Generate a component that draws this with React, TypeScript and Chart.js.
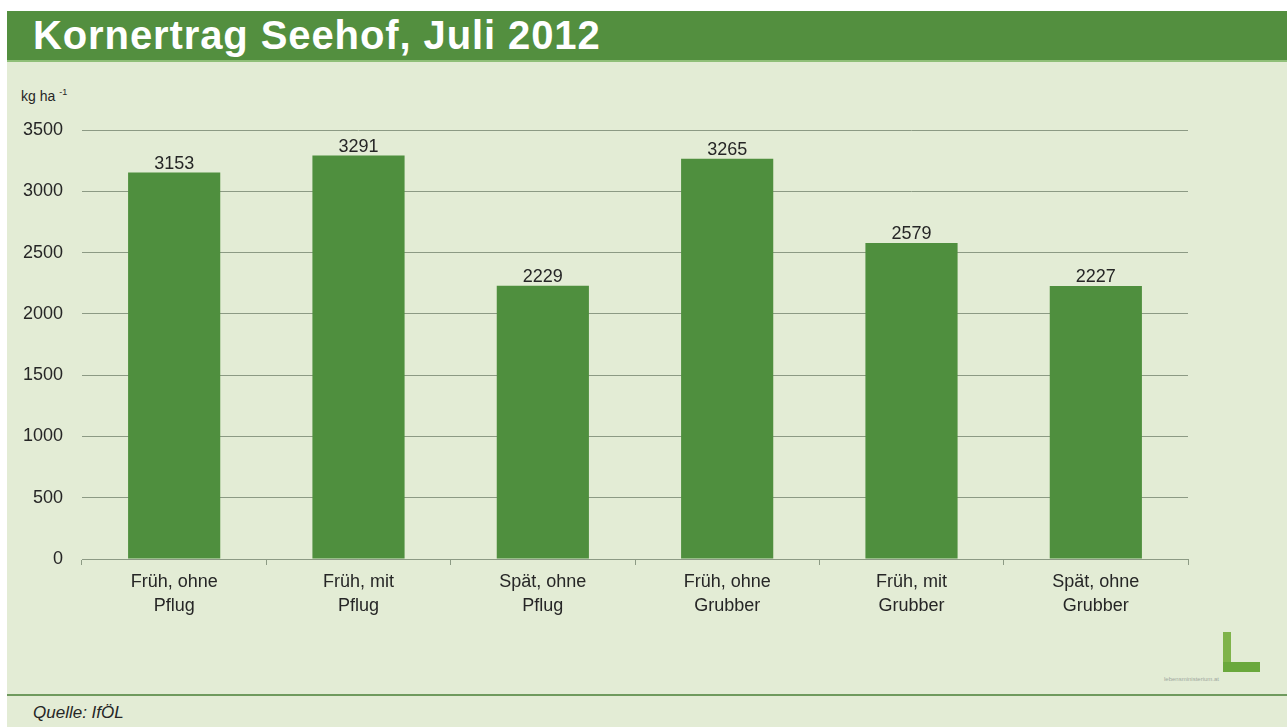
import React, { useEffect, useRef } from "react";
import { Chart, registerables } from "chart.js";

Chart.register(...registerables);

const categories: string[][] = [
  ["Früh, ohne", "Pflug"],
  ["Früh, mit", "Pflug"],
  ["Spät, ohne", "Pflug"],
  ["Früh, ohne", "Grubber"],
  ["Früh, mit", "Grubber"],
  ["Spät, ohne", "Grubber"],
];
const yields: number[] = [3153, 3291, 2229, 3265, 2579, 2227];
const yTicks: number[] = [0, 500, 1000, 1500, 2000, 2500, 3000, 3500];

const FONT = "'Liberation Sans', Arial, sans-serif";
const TEXT = "#262626";
const GRID = "#8c9a84";

const valueLabels = {
  id: "valueLabels",
  afterDatasetsDraw(chart: any) {
    const ctx = chart.ctx;
    const meta = chart.getDatasetMeta(0);
    ctx.save();
    ctx.font = `18px ${FONT}`;
    ctx.fillStyle = TEXT;
    ctx.textAlign = "center";
    ctx.textBaseline = "alphabetic";
    meta.data.forEach((bar: any, i: number) => {
      ctx.fillText(String(chart.data.datasets[0].data[i]), bar.x, bar.y - 4);
    });
    ctx.restore();
  },
};

export default function App() {
  const ref = useRef<HTMLCanvasElement | null>(null);

  useEffect(() => {
    document.body.style.margin = "0";
    if (!ref.current) return;
    const chart = new Chart(ref.current, {
      type: "bar",
      data: {
        labels: categories,
        datasets: [
          {
            data: yields,
            backgroundColor: "#4f8f3e",
            barPercentage: 0.5,
            categoryPercentage: 1,
          },
        ],
      },
      options: {
        animation: false,
        responsive: false,
        maintainAspectRatio: false,
        layout: { padding: { left: 0, right: 99, top: 130, bottom: 0 } },
        plugins: { legend: { display: false }, tooltip: { enabled: false } },
        scales: {
          x: {
            offset: true,
            grid: {
              offset: true,
              drawOnChartArea: false,
              drawTicks: true,
              tickLength: 6,
              color: GRID,
            },
            border: { display: true, color: GRID, width: 1 },
            ticks: {
              color: TEXT,
              font: { family: FONT, size: 18, lineHeight: 1.33 },
              padding: 5,
              maxRotation: 0,
              autoSkip: false,
            },
            afterFit(scale: any) {
              scale.height = 727 - 559;
            },
          },
          y: {
            min: 0,
            max: 3500,
            afterBuildTicks(scale: any) {
              scale.ticks = yTicks.map((v) => ({ value: v }));
            },
            grid: { color: GRID, drawTicks: false, lineWidth: 1 },
            border: { display: false },
            ticks: {
              color: TEXT,
              font: { family: FONT, size: 18 },
              padding: 19,
              callback: (v: any) => String(v),
            },
            afterFit(scale: any) {
              scale.width = 82;
            },
          },
        },
      },
      plugins: [valueLabels],
    });
    return () => chart.destroy();
  }, []);

  return (
    <div
      style={{
        position: "absolute",
        left: 0,
        top: 0,
        width: 1287,
        height: 727,
        background: "#ffffff",
        overflow: "hidden",
        fontFamily: FONT,
      }}
    >
      <div
        style={{
          position: "absolute",
          left: 7,
          top: 11,
          width: 1280,
          height: 716,
          background: "#e3ecd5",
        }}
      />
      <div
        style={{
          position: "absolute",
          left: 7,
          top: 11,
          width: 1280,
          height: 49,
          background: "#538f3f",
          borderBottom: "2px solid #8fbf78",
        }}
      />
      <div
        style={{
          position: "absolute",
          left: 33,
          top: 11,
          color: "#ffffff",
          fontWeight: "bold",
          fontSize: 40,
          letterSpacing: 0.9,
          lineHeight: "48px",
          whiteSpace: "nowrap",
        }}
      >
        Kornertrag Seehof, Juli 2012
      </div>
      <div
        style={{
          position: "absolute",
          left: 21,
          top: 87,
          color: TEXT,
          fontSize: 14,
          whiteSpace: "nowrap",
        }}
      >
        kg ha <sup style={{ fontSize: 9 }}>-1</sup>
      </div>
      <div
        style={{
          position: "absolute",
          left: 1223,
          top: 632,
          width: 8,
          height: 40,
          background: "#7fb34a",
        }}
      />
      <div
        style={{
          position: "absolute",
          left: 1223,
          top: 662,
          width: 37,
          height: 10,
          background: "#6aa83c",
        }}
      />
      <div
        style={{
          position: "absolute",
          left: 1164,
          top: 676,
          fontSize: 6,
          color: "#a0a8a0",
          whiteSpace: "nowrap",
        }}
      >
        lebensministerium.at
      </div>
      <div
        style={{
          position: "absolute",
          left: 7,
          top: 694,
          width: 1280,
          height: 2,
          background: "#6f9a5e",
        }}
      />
      <div
        style={{
          position: "absolute",
          left: 33,
          top: 703,
          fontSize: 17,
          fontStyle: "italic",
          color: TEXT,
          whiteSpace: "nowrap",
        }}
      >
        Quelle: IfÖL
      </div>
      <canvas
        ref={ref}
        width={1287}
        height={727}
        style={{ position: "absolute", left: 0, top: 0, width: 1287, height: 727 }}
      />
    </div>
  );
}
